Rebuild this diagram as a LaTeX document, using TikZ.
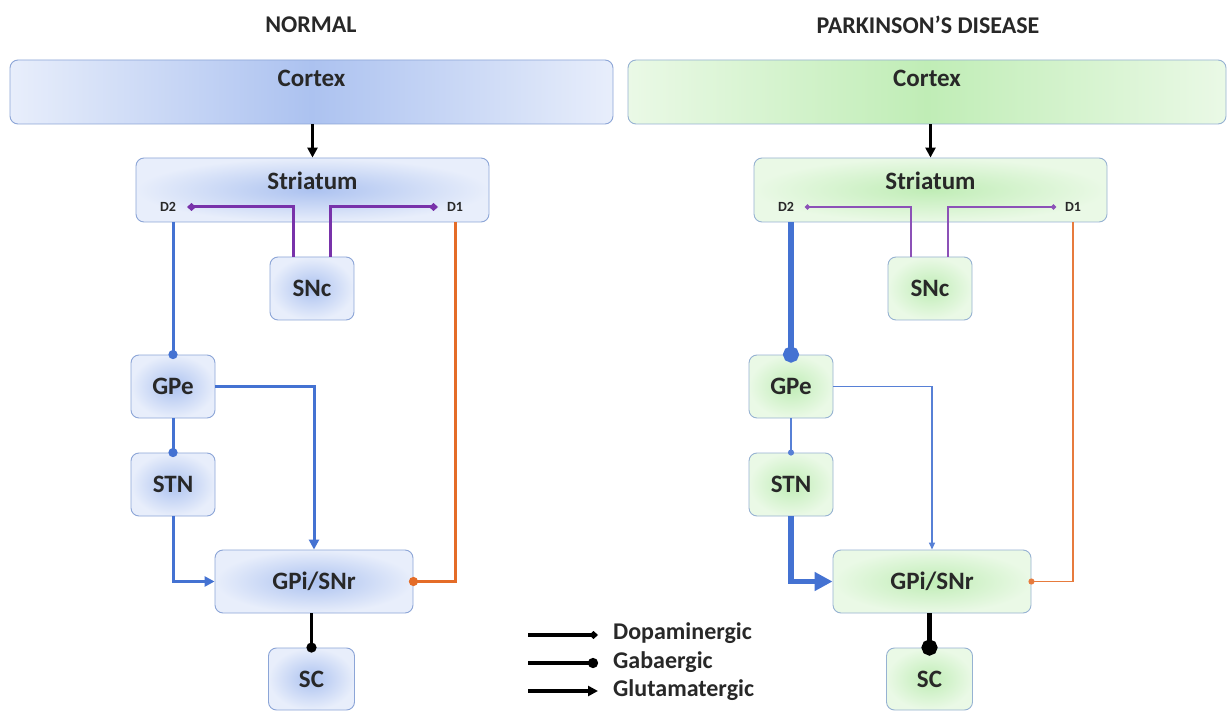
\documentclass[tikz,border=0pt]{standalone}
\usepackage{fontspec}
\setmainfont{Carlito}
\usetikzlibrary{arrows.meta}
\definecolor{bIn}{RGB}{172,194,240}
\definecolor{bOut}{RGB}{232,238,251}
\definecolor{bBd}{RGB}{140,165,215}
\definecolor{gIn}{RGB}{192,237,182}
\definecolor{gOut}{RGB}{234,249,230}
\definecolor{gBd}{RGB}{150,178,210}
\definecolor{lblue}{RGB}{68,114,210}
\definecolor{lorange}{RGB}{228,108,40}
\definecolor{lpurple}{RGB}{120,50,170}
\definecolor{txt}{RGB}{40,40,40}
\tikzset{
  box/.style={draw, line width=0.9pt, rounded corners=8pt, text=txt,
    font=\bfseries\fontsize{25}{27}\selectfont, inner sep=0pt},
  bluebox/.style={box, draw=bBd, inner color=bIn, outer color=bOut},
  greenbox/.style={box, draw=gBd, inner color=gIn, outer color=gOut},
  lbl/.style={text=txt, font=\bfseries\fontsize{25}{27}\selectfont, inner sep=0pt},
  hdr/.style={text=txt, font=\bfseries\fontsize{24}{26}\selectfont, inner sep=0pt},
  smalllbl/.style={text=txt, font=\bfseries\fontsize{14}{16}\selectfont, inner sep=0pt},
  leg/.style={text=txt, font=\bfseries\fontsize{24}{26}\selectfont, inner sep=0pt, anchor=west},
  legline/.style={black, line width=4pt},
}
\newcommand{\basalpanel}{%
  \node[pbox, minimum width=353pt, minimum height=64pt] (str) at (312.5,190) {};
  \node[lbl] (strt) at (312.5,181) {Striatum};
  \node[smalllbl] (d2) at (168,207) {D2};
  \node[smalllbl] (d1) at (455,207) {D1};
  \coordinate (d2p) at (187,207);
  \coordinate (d1p) at (438,207);
  \coordinate (orx) at (455,300);
  \node[pbox, minimum width=84pt, minimum height=63pt] (snc) at (312,288.5) {SNc};
  \node[pbox, minimum width=84pt, minimum height=63pt] (gpe) at (173,386.5) {GPe};
  \node[pbox, minimum width=84pt, minimum height=63pt] (stn) at (173,484.5) {STN};
  \node[pbox, minimum width=198pt, minimum height=63pt] (gpi) at (314,581.5) {GPi/SNr};
  \node[pbox, minimum width=86pt, minimum height=62pt] (sc) at (311.5,679) {SC};
  \draw[conPu] ([xshift=-19pt]snc.north) |- (d2p);
  \draw[conPu] ([xshift=18pt]snc.north) |- (d1p);
  \draw[conD2] (str.south -| gpe.north) -- (gpe.north);
  \draw[conGS] (gpe.south) -- (stn.north);
  \draw[conGG] (gpe.east) -| (gpi.north);
  \draw[conSG] (stn.south) |- (gpi.west);
  \draw[conOr] (str.south -| orx) |- (gpi.east);
  \draw[conSC] (gpi.south -| sc.north) -- (sc.north);
}
\begin{document}
\begin{tikzpicture}[x=1pt,y=-1pt]
\useasboundingbox[fill=white] (0,0) rectangle (1229,711);
% headers
\node[hdr] (hN) at (311,25) {NORMAL};
\node[hdr] (hP) at (928,25) {PARKINSON’S DISEASE};
% cortex
\node[box, draw=bBd, minimum width=603pt, minimum height=64pt,
  left color=bOut, right color=bOut, middle color=bIn] (cL) at (311.5,92) {};
\node[lbl] (cLt) at (311.5,78) {Cortex};
\node[box, draw=gBd, minimum width=598pt, minimum height=64pt,
  left color=gOut, right color=gOut, middle color=gIn] (cR) at (927,92) {};
\node[lbl] (cRt) at (927,78) {Cortex};
% left panel
\begin{scope}[name prefix=L-,
  pbox/.style={bluebox},
  conPu/.style={lpurple, line width=3pt, -{Diamond[length=9pt,width=8pt]}},
  conD2/.style={lblue, line width=3pt, -{Circle[length=9pt]}, shorten >=-4.5pt},
  conGS/.style={lblue, line width=3pt, -{Circle[length=9pt]}, shorten >=-4.5pt},
  conGG/.style={lblue, line width=3pt, -{Triangle[length=10pt,width=10pt]}},
  conSG/.style={lblue, line width=3pt, -{Triangle[length=10pt,width=10pt]}},
  conOr/.style={lorange, line width=3pt, -{Circle[length=9pt]}, shorten >=-4.5pt},
  conSC/.style={black, line width=3pt, -{Circle[length=10pt]}, shorten >=-5pt}]
  \basalpanel
\end{scope}
% right panel
\begin{scope}[xshift=618pt, name prefix=R-,
  pbox/.style={greenbox},
  conPu/.style={lpurple!85, line width=1.5pt, -{Circle[length=5pt]}},
  conD2/.style={lblue, line width=5.5pt, -{Circle[length=16pt]}, shorten >=-8pt},
  conGS/.style={lblue!90, line width=1.5pt, -{Circle[length=6pt]}, shorten >=-3pt},
  conGG/.style={lblue!90, line width=1.5pt, -{Triangle[length=7pt,width=6pt]}},
  conSG/.style={lblue, line width=5.5pt, -{Triangle[length=18pt,width=18pt]}},
  conOr/.style={lorange!90, line width=1.5pt, -{Circle[length=6pt]}, shorten >=-3pt},
  conSC/.style={black, line width=5.5pt, -{Circle[length=16pt]}, shorten >=-8pt}]
  \basalpanel
\end{scope}
% cortex to striatum
\draw[black, line width=3pt, -{Triangle[length=10pt,width=10pt]}] (cL.south -| L-str.north) -- (L-str.north);
\draw[black, line width=3pt, -{Triangle[length=10pt,width=10pt]}] (cR.south -| R-str.north) -- (R-str.north);
% legend
\coordinate (ls1) at (528,635);
\coordinate (le1) at (598,635);
\coordinate (ls2) at (528,663);
\coordinate (le2) at (598,663);
\coordinate (ls3) at (528,691);
\coordinate (le3) at (598,691);
\node[leg] (lg1) at (613,633) {Dopaminergic};
\node[leg] (lg2) at (613,662) {Gabaergic};
\node[leg] (lg3) at (613,690) {Glutamatergic};
\draw[legline, -{Diamond[length=9pt,width=8pt]}] (ls1) -- (le1);
\draw[legline, -{Circle[length=10pt]}] (ls2) -- (le2);
\draw[legline, -{Triangle[length=10pt,width=10pt]}] (ls3) -- (le3);
\end{tikzpicture}
\end{document}
